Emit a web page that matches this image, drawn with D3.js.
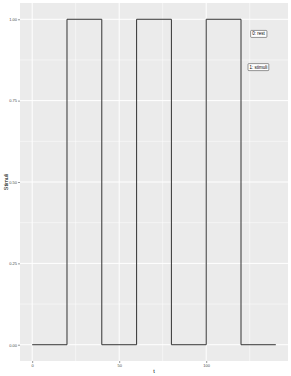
<!DOCTYPE html>
<html><head><meta charset="utf-8">
<script src="https://cdn.jsdelivr.net/npm/d3@7"></script>
<style>body{margin:0;background:#fff}svg{display:block}text{font-family:"Liberation Sans",Arial,sans-serif}</style>
</head><body>
<script>
const times = [0, 20, 20, 40, 40, 60, 60, 80, 80, 100, 100, 120, 120, 140];
const stimuli = [0, 0, 1, 1, 0, 0, 1, 1, 0, 0, 1, 1, 0, 0];
const xTicks = [0, 50, 100];
const yTicks = [0, 0.25, 0.5, 0.75, 1];
const yTickLabels = ["0.00", "0.25", "0.50", "0.75", "1.00"];
const labelTexts = ["0: rest", "1: stimuli"];
const labelX = [130, 130];
const labelY = [0.955, 0.853];

const W = 291, H = 376;
const svg = d3.select("body").append("svg").attr("width", W).attr("height", H);
const pl = 20, pr = 288, pt = 3, pb = 361;
const x = d3.scaleLinear().domain([-7, 147]).range([pl, pr]);
const y = d3.scaleLinear().domain([-0.05, 1.05]).range([pb, pt]);

svg.append("rect").attr("x", pl).attr("y", pt).attr("width", pr - pl).attr("height", pb - pt).attr("fill", "#EBEBEB");
const g = svg.append("g");
const xMinor = [25, 75, 125];
const yMinor = [0.125, 0.375, 0.625, 0.875];
g.selectAll(".xm").data(xMinor).join("line").attr("x1", d => x(d)).attr("x2", d => x(d)).attr("y1", pt).attr("y2", pb).attr("stroke", "#fff").attr("stroke-width", 0.5);
g.selectAll(".ym").data(yMinor).join("line").attr("y1", d => y(d)).attr("y2", d => y(d)).attr("x1", pl).attr("x2", pr).attr("stroke", "#fff").attr("stroke-width", 0.5);
g.selectAll(".xM").data(xTicks).join("line").attr("x1", d => x(d)).attr("x2", d => x(d)).attr("y1", pt).attr("y2", pb).attr("stroke", "#fff").attr("stroke-width", 1);
g.selectAll(".yM").data(yTicks).join("line").attr("y1", d => y(d)).attr("y2", d => y(d)).attr("x1", pl).attr("x2", pr).attr("stroke", "#fff").attr("stroke-width", 1);

const pts = times.map((t, i) => [t, stimuli[i]]);
svg.append("path").attr("d", d3.line().x(d => x(d[0])).y(d => y(d[1]))(pts))
  .attr("fill", "none").attr("stroke", "#333").attr("stroke-width", 1);

labelTexts.forEach((t, i) => {
  const tx = svg.append("text").attr("x", x(labelX[i])).attr("y", y(labelY[i])).attr("text-anchor", "middle")
    .attr("dominant-baseline", "central").attr("font-size", 4.5).attr("fill", "#000").text(t);
  const bb = tx.node().getBBox();
  svg.append("rect").attr("x", bb.x - 1.5).attr("y", bb.y - 1).attr("width", bb.width + 3).attr("height", bb.height + 2)
    .attr("rx", 0.8).attr("fill", "#fff").attr("stroke", "#333").attr("stroke-width", 0.5);
  tx.raise();
});

const xAxis = d3.axisBottom(x).tickValues(xTicks).tickSize(2).tickPadding(1);
const gx = svg.append("g").attr("transform", `translate(0,${pb})`).call(xAxis);
gx.select(".domain").remove();
gx.selectAll("line").attr("stroke", "#333").attr("stroke-width", 0.5);
gx.selectAll("text").attr("font-size", 4).attr("fill", "#4D4D4D").attr("font-family", "Liberation Sans, Arial, sans-serif");
const yAxis = d3.axisLeft(y).tickValues(yTicks).tickFormat((d, i) => yTickLabels[i]).tickSize(2).tickPadding(1);
const gy = svg.append("g").attr("transform", `translate(${pl},0)`).call(yAxis);
gy.select(".domain").remove();
gy.selectAll("line").attr("stroke", "#333").attr("stroke-width", 0.5);
gy.selectAll("text").attr("font-size", 4).attr("fill", "#4D4D4D").attr("font-family", "Liberation Sans, Arial, sans-serif");

svg.append("text").attr("x", (pl + pr) / 2).attr("y", 373).attr("text-anchor", "middle").attr("font-size", 5.5).attr("fill", "#000").text("t");
svg.append("text").attr("transform", `translate(8,${(pt + pb) / 2}) rotate(-90)`).attr("text-anchor", "middle").attr("font-size", 5.5).attr("fill", "#000").text("Stimuli");
</script>
</body></html>
